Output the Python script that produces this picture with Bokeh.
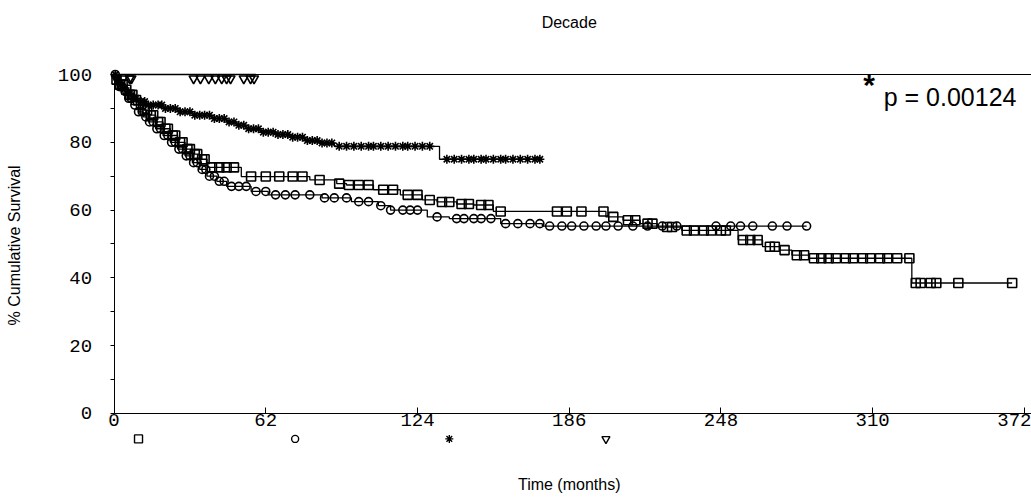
import numpy as np
from bokeh.plotting import figure
from bokeh.models import Range1d, FixedTicker, Label, LinearAxis
from bokeh.embed import file_html
from bokeh.resources import INLINE

# ---------------- data ----------------
# Kaplan-Meier step curves (time in months, % cumulative survival)
sq_t = [0, 1, 2, 4, 6, 8, 10, 12, 14, 17, 20, 23, 26, 29, 32, 35, 38, 52, 80, 91, 95, 106, 117,
        126, 132, 140, 147, 155, 201, 208, 215, 222, 232, 255, 265, 272, 277, 284, 326, 367]
sq_s = [100, 98.5, 97, 95.5, 94, 92.5, 91, 89.5, 88, 86, 84, 82, 80, 78, 76.5, 75, 72.6, 69.9, 68.9, 67.8,
        67.4, 66, 64.5, 63, 62.4, 61.8, 61.5, 59.6, 58, 57, 56, 55, 54, 51.2, 49.2, 48.2, 46.7, 45.8, 38.5, 38.5]
sq_cens = [1, 2.5, 3.5, 5, 6.5, 7.5, 9, 11, 12.5, 13.5, 15, 16, 18, 19, 21, 22, 24, 25, 27, 28, 30, 31,
           33, 34, 36, 37, 40, 43, 46, 49, 56, 62, 67.5, 73, 77, 84, 92, 96, 100, 104, 110, 114, 120,
           124, 129, 134, 137, 142, 145, 150, 153, 158, 181, 185, 191, 200, 204, 210, 213, 218, 220,
           226, 228, 234, 237, 241, 244, 248, 250, 257, 260, 263, 268, 270, 274, 279, 282, 286, 289,
           292, 295, 299, 302, 306, 309, 313, 316, 320, 325, 327.6, 329.6, 333.7, 336, 345, 367]

ci_t = [0, 1, 2, 4, 6, 8, 10, 12, 14, 17, 20, 23, 26, 29, 32, 35, 38, 42, 46, 56, 63, 85, 97, 108,
        113, 128, 137, 158, 175, 283]
ci_s = [100, 98, 96.5, 95, 93, 91, 89, 87.5, 86, 84, 82, 80, 78, 76, 74, 72, 70, 68.5, 67, 65.5, 64.5,
        63.6, 62.5, 61.3, 60, 58, 57.5, 56, 55.3, 55.3]
ci_cens = [0.5, 2, 3, 4.5, 6, 7, 8.5, 10, 11.5, 13, 14.5, 16, 17.5, 19, 20.5, 22, 23.5, 25, 26.5, 28,
           29.5, 31, 32.5, 34, 36, 37.5, 39, 41, 43, 45, 48, 51, 54, 58, 62, 66, 70, 74, 80, 86, 90,
           95, 100, 104, 109, 113, 118, 121, 124, 132, 140, 143, 147, 150, 154, 160, 165, 170, 174,
           178, 183, 187, 192, 197, 201, 206, 212, 218, 224, 230, 246, 252, 256, 261, 269, 275, 283]

st_t = [0, 1, 2, 3, 5, 7, 10, 14, 20, 27, 33, 40, 46, 50, 55, 60, 66, 72, 78, 84, 90, 133, 174]
st_s = [100, 98.5, 97, 96, 94.5, 93, 92, 91, 90, 89, 88, 87, 86, 85, 84, 83, 82.3, 81.5, 80.5, 79.8,
        78.8, 75, 75]
st_cens = [0.5, 1.5, 2.5, 3.5, 4.5, 5.5, 6.5, 8, 9, 11, 12.5, 14, 16, 18, 19.5, 21, 23, 25, 27, 29,
           31, 33, 35, 37, 39, 41, 43, 45, 47, 49, 51, 53, 55, 57, 59, 61, 63, 65, 67, 69, 71, 73, 75,
           77, 79, 81, 83, 85, 87, 89, 92, 95, 98, 101, 104, 106, 109, 112, 115, 118, 120, 123, 126,
           129, 136, 139, 142, 145, 147, 150, 152, 155, 158, 160, 163, 166, 169, 172, 174]

tr_t = [0, 58]
tr_s = [100, 100]
tr_cens = [1, 3.7, 6.4, 7.1, 32.5, 35.3, 38.7, 41.4, 44, 46, 47.6, 53, 55.8, 57.2]

# group key markers below the axis
key_x = [10, 74, 137, 201]
key_y = [-7.5, -7.5, -7.5, -7.5]

x_ticks = [0, 62, 124, 186, 248, 310, 372]
y_ticks = [0, 20, 40, 60, 80, 100]
y_minor = [10, 30, 50, 70, 90]

title_text = "Decade"
x_label = "Time (months)"
y_label = "% Cumulative Survival"
p_text = "p = 0.00124"

X_END = 374.9


def step_at(t, s, x):
    idx = np.searchsorted(np.asarray(t), np.asarray(x), side="right") - 1
    return np.asarray(s)[idx]


SANS = "Liberation Sans"
MONO = "Liberation Mono"

p = figure(width=1031, height=499, output_backend="svg", toolbar_location=None,
           x_range=Range1d(-46.4, X_END), y_range=Range1d(-25.37, 121.83),
           min_border_left=0, min_border_right=0, min_border_top=0, min_border_bottom=0,
           x_axis_location=None, y_axis_location=None)
p.outline_line_color = None
p.grid.visible = False
p.background_fill_color = "white"
p.border_fill_color = "white"

# y axis fixed at x = 0
yaxis = LinearAxis(fixed_location=0, ticker=FixedTicker(ticks=y_ticks, minor_ticks=y_minor))
yaxis.bounds = (0, 100)
yaxis.major_label_text_font = MONO
yaxis.major_label_text_font_size = "19px"
yaxis.major_label_text_color = "black"
yaxis.major_label_standoff = 18
yaxis.major_tick_in = 0
yaxis.major_tick_out = 4
yaxis.minor_tick_in = 0
yaxis.minor_tick_out = 4
yaxis.axis_line_color = "black"
yaxis.major_tick_line_color = "black"
yaxis.minor_tick_line_color = "black"
p.add_layout(yaxis, "left")

# x axis fixed at y = 0
xaxis = LinearAxis(fixed_location=0, ticker=FixedTicker(ticks=x_ticks, minor_ticks=[]))
xaxis.major_label_text_font = MONO
xaxis.major_label_text_font_size = "19px"
xaxis.major_label_text_color = "black"
xaxis.major_label_standoff = 1
xaxis.major_tick_in = 6
xaxis.major_tick_out = 0
xaxis.axis_line_color = "black"
xaxis.major_tick_line_color = "black"
xaxis.bounds = (0, X_END)
p.add_layout(xaxis, "below")

# top frame line (from the y axis to the right edge)
p.line([x_ticks[0], X_END], [y_ticks[-1], y_ticks[-1]], line_color="black", line_width=1.2)

lw = 1.3
groups = [
    (sq_t, sq_s, sq_cens, "square", 9),
    (ci_t, ci_s, ci_cens, "circle", 8),
    (st_t, st_s, st_cens, "asterisk", 9),
    (tr_t, tr_s, tr_cens, "inverted_triangle", 9),
]
for t, s, cens, marker, size in groups:
    p.step(t, s, mode="after", line_color="black", line_width=lw)
    cy = step_at(t, s, cens)
    if marker == "inverted_triangle":
        cy = cy - 1.2
    p.scatter(cens, cy, marker=marker, size=size, line_color="black", fill_alpha=0,
              line_width=1.6)

# key markers
for x, y, (_, _, _, marker, size) in zip(key_x, key_y, groups):
    p.scatter([x], [y], marker=marker, size=size - 1, line_color="black", fill_alpha=0,
              line_width=1.4)

# texts
p.add_layout(Label(x=186, y=115.3, text=title_text, text_align="center", text_baseline="middle",
                   text_font=SANS, text_font_size="16px", text_color="black"))
p.add_layout(Label(x=186, y=-21, text=x_label, text_align="center", text_baseline="middle",
                   text_font=SANS, text_font_size="16px", text_color="black"))
p.add_layout(Label(x=-40.7, y=49.6, text=y_label, angle=np.pi / 2, text_align="center",
                   text_baseline="middle", text_font=SANS, text_font_size="16px",
                   text_color="black"))
p.add_layout(Label(x=308.5, y=97.0, text="*", text_align="center", text_baseline="middle",
                   text_font=SANS, text_font_size="30px", text_font_style="bold", text_color="black"))
p.add_layout(Label(x=314.5, y=93.4, text=p_text, text_align="left", text_baseline="middle",
                   text_font=SANS, text_font_size="25px", text_color="black"))

open("out.html", "w").write(file_html(p, INLINE))
